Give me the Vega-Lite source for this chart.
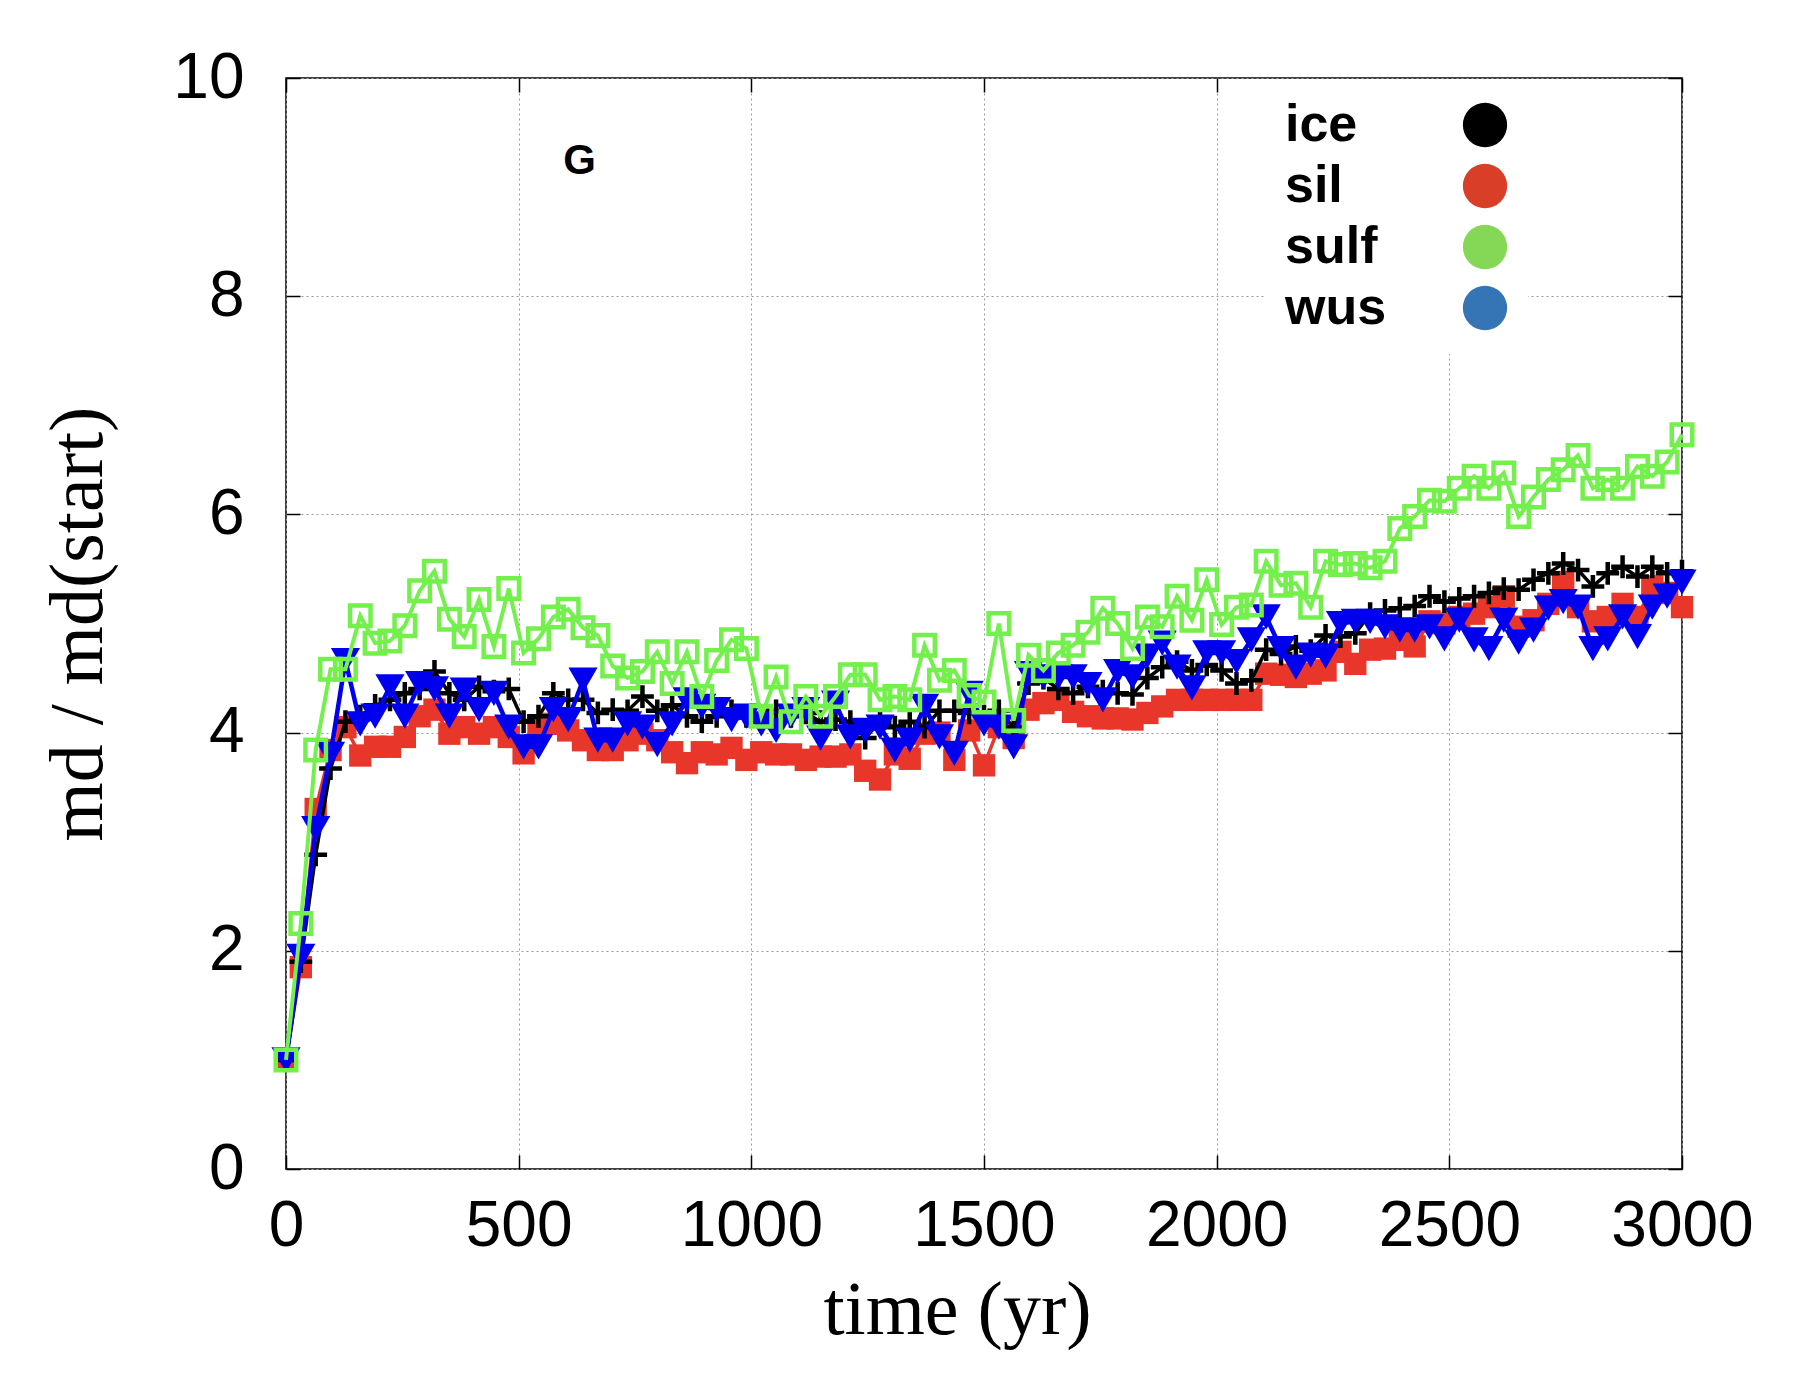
{
  "$schema": "https://vega.github.io/schema/vega-lite/v6.json",
  "width": 1396,
  "height": 1091,
  "autosize": {"type": "none"},
  "padding": {"left": 286, "top": 78, "right": 118, "bottom": 231},
  "background": "white",
  "config": {
    "view": {"stroke": "black", "strokeWidth": 1.5},
    "axis": {
      "labelFont": "Liberation Sans",
      "labelFontSize": 64,
      "labelColor": "black",
      "titleFont": "Liberation Serif",
      "titleFontWeight": "normal",
      "titleFontSize": 76,
      "titleColor": "black",
      "tickColor": "black",
      "tickWidth": 1.5,
      "tickSize": -14,
      "domain": false,
      "gridDash": [2, 3],
      "gridColor": "#9a9a9a",
      "gridWidth": 1,
      "labelFlush": false,
      "labelOverlap": false
    }
  },
  "data": {
    "values": [
      {"t": 0, "ice": 1.0, "sil": 1.0, "sulf": 1.0, "wus": 1.0},
      {"t": 31.9, "ice": 1.9, "sil": 1.85, "sulf": 2.25, "wus": 1.95},
      {"t": 63.8, "ice": 2.88, "sil": 3.3, "sulf": 3.84, "wus": 3.12},
      {"t": 95.7, "ice": 3.67, "sil": 3.84, "sulf": 4.58, "wus": 3.8},
      {"t": 127.7, "ice": 4.1, "sil": 4.05, "sulf": 4.58, "wus": 4.66},
      {"t": 159.6, "ice": 4.15, "sil": 3.79, "sulf": 5.07, "wus": 4.08},
      {"t": 191.5, "ice": 4.25, "sil": 3.87, "sulf": 4.82, "wus": 4.15},
      {"t": 223.4, "ice": 4.3, "sil": 3.87, "sulf": 4.84, "wus": 4.42},
      {"t": 255.3, "ice": 4.36, "sil": 3.96, "sulf": 4.98, "wus": 4.15},
      {"t": 287.2, "ice": 4.4, "sil": 4.15, "sulf": 5.3, "wus": 4.45},
      {"t": 319.1, "ice": 4.56, "sil": 4.21, "sulf": 5.48, "wus": 4.4},
      {"t": 351.1, "ice": 4.36, "sil": 3.99, "sulf": 5.04, "wus": 4.15},
      {"t": 383.0, "ice": 4.3, "sil": 4.05, "sulf": 4.88, "wus": 4.39},
      {"t": 414.9, "ice": 4.42, "sil": 3.99, "sulf": 5.22, "wus": 4.21},
      {"t": 446.8, "ice": 4.38, "sil": 4.05, "sulf": 4.79, "wus": 4.36},
      {"t": 478.7, "ice": 4.4, "sil": 3.96, "sulf": 5.32, "wus": 4.05},
      {"t": 510.6, "ice": 4.1, "sil": 3.81, "sulf": 4.73, "wus": 3.87},
      {"t": 542.6, "ice": 4.15, "sil": 4.05, "sulf": 4.86, "wus": 3.87},
      {"t": 574.5, "ice": 4.36, "sil": 4.08, "sulf": 5.06, "wus": 4.21},
      {"t": 606.4, "ice": 4.3, "sil": 4.02, "sulf": 5.13, "wus": 4.12},
      {"t": 638.3, "ice": 4.3, "sil": 3.93, "sulf": 4.96, "wus": 4.48},
      {"t": 670.2, "ice": 4.18, "sil": 3.84, "sulf": 4.89, "wus": 3.93},
      {"t": 702.1, "ice": 4.21, "sil": 3.84, "sulf": 4.61, "wus": 3.93},
      {"t": 734.0, "ice": 4.2, "sil": 3.93, "sulf": 4.5, "wus": 4.08},
      {"t": 766.0, "ice": 4.33, "sil": 3.99, "sulf": 4.56, "wus": 4.05},
      {"t": 797.9, "ice": 4.2, "sil": 3.93, "sulf": 4.74, "wus": 3.89},
      {"t": 829.8, "ice": 4.25, "sil": 3.82, "sulf": 4.45, "wus": 4.08},
      {"t": 861.7, "ice": 4.15, "sil": 3.72, "sulf": 4.74, "wus": 4.3},
      {"t": 893.6, "ice": 4.1, "sil": 3.82, "sulf": 4.33, "wus": 4.24},
      {"t": 925.5, "ice": 4.15, "sil": 3.8, "sulf": 4.66, "wus": 4.21},
      {"t": 957.4, "ice": 4.2, "sil": 3.86, "sulf": 4.85, "wus": 4.12},
      {"t": 989.4, "ice": 4.15, "sil": 3.75, "sulf": 4.77, "wus": 4.15},
      {"t": 1021.3, "ice": 4.1, "sil": 3.82, "sulf": 4.15, "wus": 4.08},
      {"t": 1053.2, "ice": 4.2, "sil": 3.8, "sulf": 4.51, "wus": 4.02},
      {"t": 1085.1, "ice": 4.15, "sil": 3.8, "sulf": 4.1, "wus": 4.15},
      {"t": 1117.0, "ice": 4.18, "sil": 3.75, "sulf": 4.33, "wus": 4.21},
      {"t": 1148.9, "ice": 4.1, "sil": 3.78, "sulf": 4.15, "wus": 3.95},
      {"t": 1180.9, "ice": 4.12, "sil": 3.78, "sulf": 4.33, "wus": 4.27},
      {"t": 1212.8, "ice": 4.1, "sil": 3.8, "sulf": 4.53, "wus": 3.96},
      {"t": 1244.7, "ice": 3.95, "sil": 3.65, "sulf": 4.53, "wus": 4.02},
      {"t": 1276.6, "ice": 4.1, "sil": 3.57, "sulf": 4.3, "wus": 4.05},
      {"t": 1308.5, "ice": 4.05, "sil": 3.8, "sulf": 4.33, "wus": 3.84},
      {"t": 1340.4, "ice": 4.1, "sil": 3.76, "sulf": 4.3, "wus": 3.93},
      {"t": 1372.3, "ice": 4.05, "sil": 3.99, "sulf": 4.8, "wus": 4.24},
      {"t": 1404.3, "ice": 4.2, "sil": 4.0, "sulf": 4.48, "wus": 3.96},
      {"t": 1436.2, "ice": 4.2, "sil": 3.75, "sulf": 4.57, "wus": 3.81},
      {"t": 1468.1, "ice": 4.18, "sil": 4.02, "sulf": 4.34, "wus": 4.36},
      {"t": 1500.0, "ice": 4.15, "sil": 3.7, "sulf": 4.28, "wus": 4.08},
      {"t": 1531.9, "ice": 4.2, "sil": 4.05, "sulf": 5.0, "wus": 4.05},
      {"t": 1563.8, "ice": 4.05, "sil": 3.95, "sulf": 4.11, "wus": 3.87},
      {"t": 1595.7, "ice": 4.45, "sil": 4.21, "sulf": 4.71, "wus": 4.54},
      {"t": 1627.7, "ice": 4.5, "sil": 4.27, "sulf": 4.57, "wus": 4.51},
      {"t": 1659.6, "ice": 4.4, "sil": 4.3, "sulf": 4.73, "wus": 4.51},
      {"t": 1691.5, "ice": 4.36, "sil": 4.19, "sulf": 4.8, "wus": 4.51},
      {"t": 1723.4, "ice": 4.42, "sil": 4.15, "sulf": 4.92, "wus": 4.44},
      {"t": 1755.3, "ice": 4.38, "sil": 4.13, "sulf": 5.14, "wus": 4.3},
      {"t": 1787.2, "ice": 4.36, "sil": 4.13, "sulf": 5.0, "wus": 4.56},
      {"t": 1819.1, "ice": 4.35, "sil": 4.12, "sulf": 4.77, "wus": 4.51},
      {"t": 1851.1, "ice": 4.5, "sil": 4.18, "sulf": 5.06, "wus": 4.7},
      {"t": 1883.0, "ice": 4.6, "sil": 4.24, "sulf": 4.97, "wus": 4.82},
      {"t": 1914.9, "ice": 4.65, "sil": 4.3, "sulf": 5.25, "wus": 4.6},
      {"t": 1946.8, "ice": 4.57, "sil": 4.3, "sulf": 5.03, "wus": 4.41},
      {"t": 1978.7, "ice": 4.62, "sil": 4.3, "sulf": 5.4, "wus": 4.73},
      {"t": 2010.6, "ice": 4.57, "sil": 4.3, "sulf": 4.99, "wus": 4.73},
      {"t": 2042.6, "ice": 4.45, "sil": 4.3, "sulf": 5.15, "wus": 4.65},
      {"t": 2074.5, "ice": 4.48, "sil": 4.3, "sulf": 5.17, "wus": 4.85},
      {"t": 2106.4, "ice": 4.76, "sil": 4.54, "sulf": 5.57, "wus": 5.06},
      {"t": 2138.3, "ice": 4.72, "sil": 4.53, "sulf": 5.35, "wus": 4.77},
      {"t": 2170.2, "ice": 4.79, "sil": 4.51, "sulf": 5.37, "wus": 4.6},
      {"t": 2202.1, "ice": 4.75, "sil": 4.54, "sulf": 5.15, "wus": 4.71},
      {"t": 2234.0, "ice": 4.89, "sil": 4.57, "sulf": 5.57, "wus": 4.7},
      {"t": 2266.0, "ice": 4.88, "sil": 4.74, "sulf": 5.54, "wus": 5.0},
      {"t": 2297.9, "ice": 4.91, "sil": 4.63, "sulf": 5.55, "wus": 5.02},
      {"t": 2329.8, "ice": 5.09, "sil": 4.76, "sulf": 5.51, "wus": 5.02},
      {"t": 2361.7, "ice": 5.12, "sil": 4.77, "sulf": 5.57, "wus": 4.97},
      {"t": 2393.6, "ice": 5.14, "sil": 4.85, "sulf": 5.87, "wus": 4.94},
      {"t": 2425.5, "ice": 5.16, "sil": 4.79, "sulf": 5.98, "wus": 4.94},
      {"t": 2457.4, "ice": 5.25, "sil": 5.02, "sulf": 6.13, "wus": 4.97},
      {"t": 2489.4, "ice": 5.2, "sil": 5.0, "sulf": 6.12, "wus": 4.86},
      {"t": 2521.3, "ice": 5.23, "sil": 5.06, "sulf": 6.24, "wus": 5.03},
      {"t": 2553.2, "ice": 5.25, "sil": 5.09, "sulf": 6.35, "wus": 4.85},
      {"t": 2585.1, "ice": 5.28, "sil": 5.15, "sulf": 6.24, "wus": 4.77},
      {"t": 2617.0, "ice": 5.32, "sil": 5.25, "sulf": 6.38, "wus": 5.03},
      {"t": 2648.9, "ice": 5.31, "sil": 4.97, "sulf": 5.98, "wus": 4.83},
      {"t": 2680.9, "ice": 5.4, "sil": 5.03, "sulf": 6.16, "wus": 4.94},
      {"t": 2712.8, "ice": 5.46, "sil": 5.18, "sulf": 6.32, "wus": 5.14},
      {"t": 2744.7, "ice": 5.55, "sil": 5.38, "sulf": 6.41, "wus": 5.2},
      {"t": 2776.6, "ice": 5.49, "sil": 5.15, "sulf": 6.54, "wus": 5.15},
      {"t": 2808.5, "ice": 5.34, "sil": 5.02, "sulf": 6.24, "wus": 4.77},
      {"t": 2840.4, "ice": 5.46, "sil": 5.06, "sulf": 6.32, "wus": 4.86},
      {"t": 2872.3, "ice": 5.52, "sil": 5.18, "sulf": 6.24, "wus": 5.06},
      {"t": 2904.3, "ice": 5.43, "sil": 5.06, "sulf": 6.44, "wus": 4.88},
      {"t": 2936.2, "ice": 5.52, "sil": 5.34, "sulf": 6.35, "wus": 5.15},
      {"t": 2968.1, "ice": 5.46, "sil": 5.28, "sulf": 6.48, "wus": 5.25},
      {"t": 3000, "ice": 5.48, "sil": 5.15, "sulf": 6.73, "wus": 5.38}
    ]
  },
  "transform": [
    {"fold": ["ice", "sil", "sulf", "wus"], "as": ["series", "v"]}
  ],
  "resolve": {"axis": {"x": "independent", "y": "independent"}},
  "layer": [
    {
      "mark": {"type": "point", "opacity": 0, "filled": true},
      "encoding": {
        "x": {
          "field": "t", "type": "quantitative",
          "scale": {"domain": [0, 3000], "nice": false, "zero": false},
          "axis": {
            "orient": "bottom", "values": [0, 500, 1000, 1500, 2000, 2500, 3000], "format": "d",
            "title": "time (yr)", "grid": true, "labelPadding": 39, "labelDx": 6, "titlePadding": 15, "titleX": 671
          }
        },
        "y": {
          "field": "v", "type": "quantitative",
          "scale": {"domain": [0, 10], "nice": false, "zero": false},
          "axis": {
            "orient": "left", "values": [0, 2, 4, 6, 8, 10], "format": "d",
            "title": "md / md(start)", "grid": true, "labelPadding": 56, "titlePadding": 55
          }
        },
        "fill": {
          "field": "series", "type": "nominal",
          "scale": {"domain": ["ice", "sil", "sulf", "wus"], "range": ["#000000", "#d93e29", "#84d855", "#3575b5"]},
          "legend": {
            "orient": "none", "legendX": 979, "legendY": 1, "title": null,
            "direction": "vertical", "symbolType": "circle", "symbolSize": 1963,
            "symbolOpacity": 1, "symbolStrokeWidth": 0, "symbolOffset": 174, "labelOffset": -226,
            "labelFont": "Liberation Sans", "labelFontWeight": "bold", "labelFontSize": 52,
            "labelColor": "black", "rowPadding": 9, "padding": 20, "fillColor": "white"
          }
        }
      }
    },
    {
      "transform": [{"filter": "datum.series === 'sil'"}],
      "mark": {"type": "line", "color": "#e8372a", "strokeWidth": 3.5},
      "encoding": {
        "x": {"field": "t", "type": "quantitative",
          "axis": {"orient": "top", "values": [0, 500, 1000, 1500, 2000, 2500, 3000], "labels": false, "title": null, "grid": false}},
        "y": {"field": "v", "type": "quantitative",
          "axis": {"orient": "right", "values": [0, 2, 4, 6, 8, 10], "labels": false, "title": null, "grid": false}}
      }
    },
    {
      "transform": [{"filter": "datum.series === 'sil'"}],
      "mark": {"type": "point", "shape": "square", "filled": true, "color": "#e8372a", "size": 500, "opacity": 1},
      "encoding": {
        "x": {"field": "t", "type": "quantitative", "axis": null},
        "y": {"field": "v", "type": "quantitative", "axis": null}
      }
    },
    {
      "transform": [{"filter": "datum.series === 'ice'"}],
      "mark": {"type": "line", "color": "#000000", "strokeWidth": 3.5},
      "encoding": {
        "x": {"field": "t", "type": "quantitative", "axis": null},
        "y": {"field": "v", "type": "quantitative", "axis": null}
      }
    },
    {
      "transform": [{"filter": "datum.series === 'ice'"}],
      "mark": {"type": "point", "shape": "M-1,0L1,0M0,-1L0,1", "filled": false, "color": "#000000", "size": 520, "strokeWidth": 4.5, "opacity": 1},
      "encoding": {
        "x": {"field": "t", "type": "quantitative", "axis": null},
        "y": {"field": "v", "type": "quantitative", "axis": null}
      }
    },
    {
      "transform": [{"filter": "datum.series === 'wus'"}],
      "mark": {"type": "line", "color": "#0000ee", "strokeWidth": 4.5},
      "encoding": {
        "x": {"field": "t", "type": "quantitative", "axis": null},
        "y": {"field": "v", "type": "quantitative", "axis": null}
      }
    },
    {
      "transform": [{"filter": "datum.series === 'wus'"}],
      "mark": {"type": "point", "shape": "triangle-down", "filled": true, "color": "#0000ee", "size": 850, "opacity": 1},
      "encoding": {
        "x": {"field": "t", "type": "quantitative", "axis": null},
        "y": {"field": "v", "type": "quantitative", "axis": null}
      }
    },
    {
      "transform": [{"filter": "datum.series === 'sulf'"}],
      "mark": {"type": "line", "color": "#74f04c", "strokeWidth": 4},
      "encoding": {
        "x": {"field": "t", "type": "quantitative", "axis": null},
        "y": {"field": "v", "type": "quantitative", "axis": null}
      }
    },
    {
      "transform": [{"filter": "datum.series === 'sulf'"}],
      "mark": {"type": "point", "shape": "square", "filled": false, "color": "#74f04c", "size": 420, "strokeWidth": 4.5, "opacity": 1},
      "encoding": {
        "x": {"field": "t", "type": "quantitative", "axis": null},
        "y": {"field": "v", "type": "quantitative", "axis": null}
      }
    },
    {
      "data": {"values": [{"t": 631, "v": 9.24, "label": "G"}]},
      "mark": {"type": "text", "font": "Liberation Sans", "fontWeight": "bold", "fontSize": 42, "color": "black"},
      "encoding": {
        "x": {"field": "t", "type": "quantitative", "axis": null},
        "y": {"field": "v", "type": "quantitative", "axis": null},
        "text": {"field": "label"}
      }
    }
  ]
}
